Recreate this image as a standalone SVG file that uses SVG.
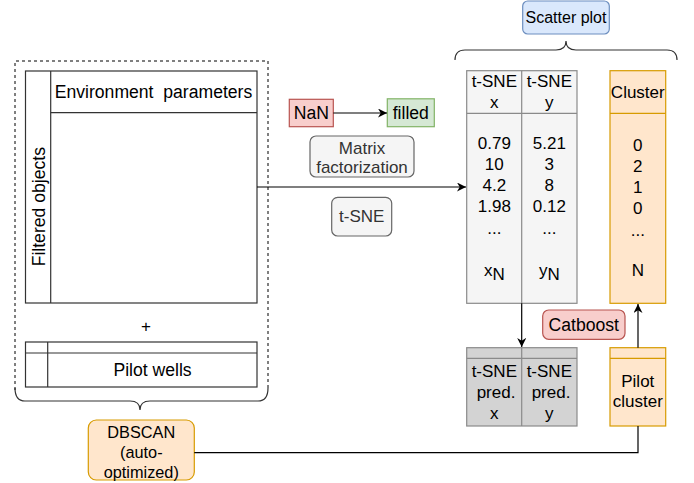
<svg xmlns="http://www.w3.org/2000/svg" width="694" height="483" viewBox="0 0 694 483">
<defs>
<style>
text{font-family:"Liberation Sans",Arial,sans-serif;font-size:17px;fill:#000;text-anchor:middle;dominant-baseline:central}
.big{font-size:17.6px}
.sm{font-size:16.3px}
.ln{fill:none;stroke:#333;stroke-width:1.2}
.grey{fill:#f5f5f5;stroke:#8a8a8a;stroke-width:1.2}
.dgrey{fill:#d3d3d3;stroke:#8a8a8a;stroke-width:1.2}
.orange{fill:#ffe6cc;stroke:#d79b00;stroke-width:1.2}
.red{fill:#f8cecc;stroke:#b85450;stroke-width:1.2}
.green{fill:#d5e8d4;stroke:#82b366;stroke-width:1.2}
.blue{fill:#dae8fc;stroke:#6c8ebf;stroke-width:1.2}
.lbl{fill:#f5f5f5;stroke:#666;stroke-width:1.2}
.conn{fill:none;stroke:#000;stroke-width:1.2}
</style>
<marker id="ah" viewBox="0 0 10 10" refX="10" refY="5" markerWidth="9" markerHeight="9" markerUnits="userSpaceOnUse" orient="auto">
<path d="M0,0 L10,5 L0,10 L3,5 Z" fill="#000"/>
</marker>
</defs>

<g id="input-group">
<path d="M15,390 L15,61 L268,61 L268,390" fill="none" stroke="#000" stroke-width="1" stroke-dasharray="3,3"/>
<path class="ln" d="M15,388 Q15,401 25,401 L130,401 Q140,401 140,410 Q140,401 150,401 L258,401 Q268,401 268,388"/>
</g>

<g id="env-table">
<rect x="25.5" y="71" width="231.5" height="232" fill="#fff" class="ln"/>
<line class="ln" x1="50.7" y1="71" x2="50.7" y2="303"/>
<line class="ln" x1="50.7" y1="112.7" x2="257" y2="112.7"/>
<text class="big" x="153.5" y="91.7" xml:space="preserve">Environment  parameters</text>
<text class="big" transform="translate(38.5,206.7) rotate(-90)">Filtered objects</text>
</g>

<g id="plus"><text x="146" y="326">+</text></g>

<g id="pilot-wells">
<rect x="25.5" y="342" width="231.5" height="45" fill="#fff" class="ln"/>
<line class="ln" x1="25.5" y1="353" x2="257" y2="353"/>
<line class="ln" x1="47.7" y1="342" x2="47.7" y2="387"/>
<text class="big" x="152.5" y="370">Pilot wells</text>
</g>

<g id="nan"><rect class="red" x="289.3" y="99.3" width="44" height="27.4"/><text class="big" x="311.3" y="113">NaN</text></g>
<g id="filled"><rect class="green" x="387.3" y="98.8" width="47" height="27.9"/><text class="big" x="410.8" y="113">filled</text></g>

<g id="matrix-factorization"><rect class="lbl" x="310" y="136" width="104" height="41" rx="6"/>
<text x="362" y="148.3" style="fill:#333">Matrix</text><text x="362" y="167.3" style="fill:#333">factorization</text></g>
<g id="tsne-label"><rect class="lbl" x="331.7" y="197.3" width="60" height="38.7" rx="6"/><text x="361.7" y="216.7" style="fill:#333">t-SNE</text></g>

<g id="scatter-plot">
<rect class="blue" x="522.7" y="1" width="86.6" height="33" rx="5"/>
<text x="566" y="17.5" style="font-size:16px">Scatter plot</text>
<path class="ln" d="M455,60 Q455,50 465,50 L556,50 Q566,50 566,41 Q566,50 576,50 L667,50 Q677,50 677,60"/>
</g>

<g id="tsne-table">
<rect class="grey" x="466.7" y="70.7" width="110.3" height="232.6"/>
<line class="grey" x1="521.7" y1="70.7" x2="521.7" y2="303.3"/>
<line class="grey" x1="466.7" y1="113.3" x2="577" y2="113.3"/>
<text x="494.3" y="81.7">t-SNE</text><text x="494.3" y="102.5">x</text>
<text x="549.3" y="81.7">t-SNE</text><text x="549.3" y="102.5">y</text>
<text x="494.3" y="143">0.79</text><text x="494.3" y="164">10</text><text x="494.3" y="185">4.2</text><text x="494.3" y="206.5">1.98</text><text x="494.3" y="228">...</text>
<text x="494.3" y="270">x<tspan dy="4">N</tspan></text>
<text x="549.3" y="143">5.21</text><text x="549.3" y="164">3</text><text x="549.3" y="185">8</text><text x="549.3" y="206.5">0.12</text><text x="549.3" y="228">...</text>
<text x="549.3" y="270">y<tspan dy="4">N</tspan></text>
</g>

<g id="cluster-table">
<rect class="orange" x="610" y="70.7" width="55.7" height="232.6"/>
<line class="orange" x1="610" y1="113.3" x2="665.7" y2="113.3"/>
<text x="637.8" y="92.3">Cluster</text>
<text x="637.8" y="145.7">0</text><text x="637.8" y="166">2</text><text x="637.8" y="187">1</text><text x="637.8" y="208.5">0</text><text x="637.8" y="230">...</text><text x="637.8" y="270.7">N</text>
</g>

<g id="pred-table">
<rect class="dgrey" x="466.7" y="347.7" width="110.3" height="78.3"/>
<line class="dgrey" x1="521.7" y1="347.7" x2="521.7" y2="426"/>
<line class="dgrey" x1="466.7" y1="358.3" x2="577" y2="358.3"/>
<text x="494.3" y="371">t-SNE</text><text x="496" y="392.5">pred.</text><text x="494.3" y="413">x</text>
<text x="549.3" y="371">t-SNE</text><text x="551" y="392.5">pred.</text><text x="549.3" y="413">y</text>
</g>

<g id="catboost"><rect class="red" x="542.7" y="310" width="82.3" height="29.3" rx="6"/><text class="big" x="583.8" y="324.5">Catboost</text></g>

<g id="pilot-cluster">
<rect class="orange" x="610" y="347.7" width="55.7" height="78.3"/>
<line class="orange" x1="610" y1="358.3" x2="665.7" y2="358.3"/>
<text x="637.8" y="381.7">Pilot</text><text x="637.8" y="401.7">cluster</text>
</g>

<g id="dbscan"><rect class="orange" x="88.3" y="420" width="106" height="60" rx="8"/>
<text class="sm" x="141.3" y="431.7">DBSCAN</text><text class="sm" x="141.3" y="452">(auto-</text><text class="sm" x="141.3" y="471.5">optimized)</text></g>

<g id="connectors">
<path class="conn" d="M257,187 L466,187" marker-end="url(#ah)"/>
<path class="conn" d="M333.3,113 L387,113" marker-end="url(#ah)"/>
<path class="conn" d="M521.7,303.3 L521.7,347" stroke="#555" marker-end="url(#ah)"/>
<path class="conn" d="M638,347.7 L638,304" marker-end="url(#ah)"/>
<path class="conn" d="M194.3,452.7 L638,452.7 L638,426" stroke="#333"/>
</g>
</svg>
